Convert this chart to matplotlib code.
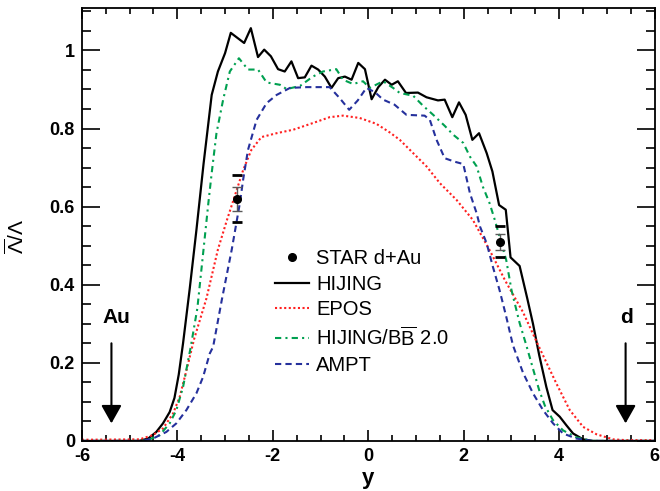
import matplotlib
matplotlib.use("Agg")
import matplotlib.pyplot as plt
from matplotlib.ticker import MultipleLocator, FuncFormatter

plt.rcParams['font.family'] = ['Liberation Sans', 'DejaVu Sans']
plt.rcParams['mathtext.fontset'] = 'custom'
plt.rcParams['mathtext.rm'] = 'Liberation Sans'
plt.rcParams['mathtext.it'] = 'Liberation Sans:italic'
plt.rcParams['mathtext.bf'] = 'Liberation Sans:bold'
plt.rcParams['axes.unicode_minus'] = False

# HIJING
hij_x = [-6.00, -4.80, -4.61, -4.44, -4.30, -4.16, -4.06, -3.97, -3.88, -3.74, -3.60, -3.45,
         -3.28, -3.15, -3.00, -2.88, -2.60, -2.46, -2.31, -2.18, -2.04, -1.89, -1.75, -1.61,
         -1.47, -1.33, -1.19, -1.05, -0.91, -0.77, -0.63, -0.49, -0.35, -0.21, -0.07, 0.07,
         0.21, 0.35, 0.49, 0.62, 0.79, 1.04, 1.22, 1.46, 1.60, 1.76, 1.90, 2.04, 2.18, 2.32,
         2.48, 2.60, 2.74, 2.88, 2.98, 3.17, 3.33, 3.45, 3.58, 3.73, 3.86, 4.01, 4.15, 4.29,
         4.50, 4.70, 6.00]
hij_y = [0.0, 0.0, 0.006, 0.023, 0.045, 0.074, 0.11, 0.17, 0.25, 0.39, 0.54, 0.71,
         0.886, 0.946, 0.993, 1.045, 1.019, 1.057, 0.983, 1.002, 0.985, 0.952, 0.946, 0.972,
         0.929, 0.931, 0.961, 0.951, 0.933, 0.904, 0.929, 0.933, 0.925, 0.968, 0.952, 0.875,
         0.906, 0.925, 0.912, 0.921, 0.891, 0.892, 0.880, 0.872, 0.874, 0.829, 0.867, 0.835, 0.771, 0.788,
         0.737, 0.690, 0.604, 0.592, 0.47, 0.448, 0.365, 0.30, 0.22, 0.138, 0.079, 0.062, 0.040, 0.019,
         0.004, 0.0, 0.0]

# EPOS
epos_x = [-6.00, -4.79, -4.51, -4.30, -4.09, -3.95, -3.81, -3.65, -3.39, -3.15, -2.97, -2.80,
          -2.62, -2.45, -2.24, -1.92, -1.57, -1.16, -0.81, -0.53, -0.18, 0.17, 0.45, 0.66,
          0.94, 1.22, 1.50, 1.85, 2.19, 2.54, 2.87, 3.24, 3.56, 3.94, 4.22, 4.50, 4.78, 5.13,
          5.40, 6.00]
epos_y = [0.003, 0.004, 0.015, 0.032, 0.070, 0.113, 0.18, 0.26, 0.365, 0.49, 0.562, 0.626,
          0.694, 0.745, 0.778, 0.788, 0.797, 0.814, 0.829, 0.833, 0.827, 0.812, 0.790, 0.771,
          0.737, 0.703, 0.660, 0.617, 0.566, 0.489, 0.41, 0.33, 0.245, 0.147, 0.079, 0.036, 0.017, 0.004,
          0.002, 0.002]

# HIJING/BBbar 2.0
bb_x = [-6.00, -4.75, -4.58, -4.37, -4.16, -4.02, -3.88, -3.72, -3.58, -3.46, -3.35, -3.28,
        -3.18, -3.04, -2.90, -2.71, -2.52, -2.31, -2.13, -1.85, -1.71, -1.43, -1.16, -0.95,
        -0.67, -0.53, -0.32, -0.11, 0.03, 0.31, 0.52, 0.66, 0.94, 1.15, 1.36, 1.60, 1.78,
        1.99, 2.13, 2.27, 2.40, 2.54, 2.65, 2.89, 3.00, 3.17, 3.31, 3.45, 3.58, 3.70, 3.87,
        4.08, 4.36, 4.70, 6.00]
bb_y = [0.0, 0.0, 0.004, 0.015, 0.045, 0.079, 0.138, 0.24, 0.34, 0.48, 0.609, 0.686,
        0.788, 0.874, 0.946, 0.980, 0.951, 0.951, 0.918, 0.912, 0.901, 0.909, 0.933, 0.946,
        0.952, 0.925, 0.914, 0.921, 0.904, 0.921, 0.904, 0.891, 0.884, 0.858, 0.835, 0.807, 0.784,
        0.763, 0.728, 0.703, 0.651, 0.609, 0.566, 0.463, 0.386, 0.302, 0.245, 0.185, 0.13, 0.09, 0.053,
        0.027, 0.009, 0.0, 0.0]

# AMPT
ampt_x = [-6.00, -4.75, -4.51, -4.23, -4.02, -3.81, -3.60, -3.46, -3.32, -3.25, -3.07, -2.86,
          -2.69, -2.62, -2.52, -2.34, -2.13, -1.92, -1.64, -1.29, -0.81, -0.60, -0.40, -0.22,
          -0.04, 0.14, 0.31, 0.55, 0.80, 1.18, 1.29, 1.43, 1.60, 1.81, 1.99, 2.13, 2.27, 2.34,
          2.48, 2.61, 2.75, 2.89, 3.03, 3.24, 3.45, 3.66, 3.87, 4.08, 4.36, 4.70, 6.00]
ampt_y = [0.0, 0.0, 0.006, 0.023, 0.045, 0.079, 0.122, 0.164, 0.224, 0.241, 0.36, 0.49,
          0.609, 0.67, 0.745, 0.822, 0.865, 0.886, 0.904, 0.906, 0.906, 0.878, 0.848, 0.872,
          0.904, 0.893, 0.874, 0.861, 0.835, 0.833, 0.822, 0.771, 0.724, 0.715, 0.709, 0.634, 0.583, 0.549,
          0.506, 0.446, 0.386, 0.318, 0.245, 0.175, 0.122, 0.079, 0.045, 0.019, 0.006, 0.0, 0.0]

# STAR d+Au data
star_x = [-2.75, 2.75]
star_y = [0.620, 0.510]
star_stat = [0.031, 0.020]
star_sys = [0.060, 0.040]

fig = plt.figure(figsize=(6.6, 4.91), dpi=100)
ax = fig.add_axes([0.124, 0.102, 0.868, 0.882])

l_hij, = ax.plot(hij_x, hij_y, color='black', lw=1.6, label='HIJING')
l_epos, = ax.plot(epos_x, epos_y, color='#ff2020', lw=1.5, ls=(0, (1, 1.2)), label='EPOS')
l_bb, = ax.plot(bb_x, bb_y, color='#00a050', lw=1.5, ls=(0, (3, 2, 1, 2)),
                label='HIJING/B$\\overline{\\mathrm{B}}$ 2.0')
l_ampt, = ax.plot(ampt_x, ampt_y, color='#25309c', lw=1.5, ls=(0, (3, 2)), label='AMPT')

ax.errorbar(star_x, star_y, yerr=star_sys, fmt='none', ecolor='black', elinewidth=0,
            capsize=3.6, capthick=2)
ax.errorbar(star_x, star_y, yerr=star_stat, fmt='none', ecolor='0.35', elinewidth=1,
            capsize=3.6, capthick=1)
l_star, = ax.plot(star_x, star_y, 'o', color='black', ms=5.5, ls='none', label='STAR d+Au')

# beam direction arrows
arrow = dict(arrowstyle='-|>,head_length=0.55,head_width=0.31', color='black', lw=1.5,
             mutation_scale=20, shrinkA=0, shrinkB=0)
ax.annotate('', xy=(-5.38, 0.045), xytext=(-5.38, 0.25), arrowprops=arrow)
ax.annotate('', xy=(5.39, 0.045), xytext=(5.39, 0.25), arrowprops=arrow)
ax.text(-5.27, 0.315, 'Au', fontsize=15, fontweight='bold', ha='center', va='center')
ax.text(5.41, 0.315, 'd', fontsize=15, fontweight='bold', ha='center', va='center')

ax.set_xlim(-6, 6)
ax.set_ylim(0, 1.109)
ax.xaxis.set_major_locator(MultipleLocator(2))
ax.xaxis.set_minor_locator(MultipleLocator(0.5))
ax.yaxis.set_major_locator(MultipleLocator(0.2))
ax.yaxis.set_minor_locator(MultipleLocator(0.05))
ax.yaxis.set_major_formatter(FuncFormatter(lambda v, p: '%g' % round(v, 2)))
ax.xaxis.set_major_formatter(FuncFormatter(lambda v, p: '%g' % round(v, 2)))

ax.tick_params(which='both', direction='in', top=True, right=True, width=1.2)
ax.tick_params(axis='x', which='major', length=8, pad=5)
ax.tick_params(axis='x', which='minor', length=4.3)
ax.tick_params(axis='y', which='major', length=13, pad=5)
ax.tick_params(axis='y', which='minor', length=6.5)
for lab in ax.get_xticklabels() + ax.get_yticklabels():
    lab.set_fontsize(13)
    lab.set_fontweight('bold')
for s in ax.spines.values():
    s.set_linewidth(1.3)

ax.set_xlabel('y', fontsize=16, fontweight='bold')
ax.xaxis.set_label_coords(0.5, -0.062)
ax.set_ylabel('$\\overline{\\Lambda}/\\Lambda$', fontsize=15)
ax.yaxis.set_label_coords(-0.094, 0.473)

ax.legend([l_star, l_hij, l_epos, l_bb, l_ampt],
          [l.get_label() for l in [l_star, l_hij, l_epos, l_bb, l_ampt]],
          loc='upper left', bbox_to_anchor=(0.337, 0.443), frameon=False, fontsize=14.5,
          handlelength=1.7, handletextpad=0.35, labelspacing=0.33, borderaxespad=0, borderpad=0)

fig.savefig('out.png', dpi=100)
